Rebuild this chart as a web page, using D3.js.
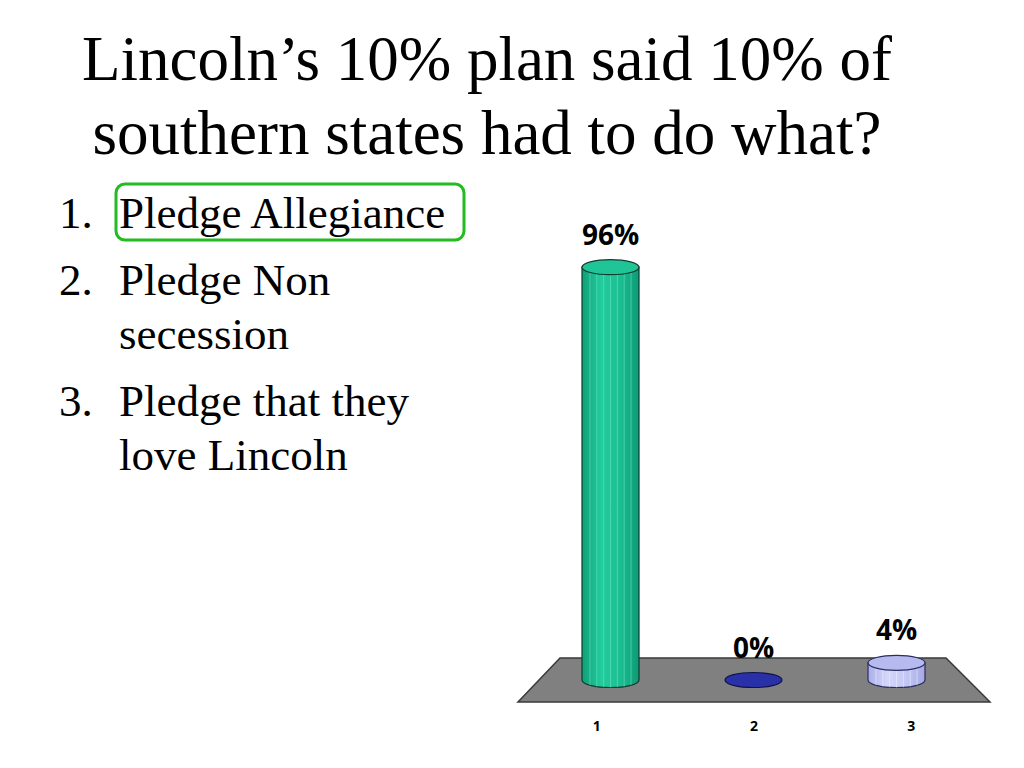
<!DOCTYPE html>
<html><head><meta charset="utf-8">
<script src="https://cdn.jsdelivr.net/npm/d3@7"></script>
<style>html,body{margin:0;padding:0;background:#fff;overflow:hidden}</style>
</head><body>
<svg id="chart" width="1024" height="768"></svg>
<script>
// ---- data ----
const titleLines = ["Lincoln\u2019s 10% plan said 10% of", "southern states had to do what?"];
const answerNumbers = ["1.", "2.", "3."];
const answerLines = [["Pledge Allegiance"], ["Pledge Non", "secession"], ["Pledge that they", "love Lincoln"]];
const categories = ["1", "2", "3"];
const values = [96, 0, 4];
const valueLabels = ["96%", "0%", "4%"];
const correctIndex = 0;

// ---- layout ----
const svg = d3.select("#chart");
const W = 1024, H = 768;
svg.append("rect").attr("width", W).attr("height", H).attr("fill", "#fff");

// title
svg.append("g").selectAll("text").data(titleLines).join("text")
  .attr("x", 487).attr("y", (d, i) => 80 + i * 74)
  .attr("text-anchor", "middle")
  .attr("font-family", "Liberation Serif, Times New Roman, serif")
  .attr("font-size", 63).attr("fill", "#000")
  .text(d => d);

// answer list
const lineBaselines = [];
let yb = 228;
answerLines.forEach((lines, i) => {
  const arr = [];
  lines.forEach((l, j) => { arr.push(yb); yb += 54; });
  yb += 13;
  lineBaselines.push(arr);
});
const list = svg.append("g")
  .attr("font-family", "Liberation Serif, Times New Roman, serif")
  .attr("font-size", 45).attr("fill", "#000");
answerLines.forEach((lines, i) => {
  list.append("text").attr("x", 59).attr("y", lineBaselines[i][0]).text(answerNumbers[i]);
  lines.forEach((l, j) => {
    list.append("text").attr("x", 119).attr("y", lineBaselines[i][j]).text(l);
  });
});
// highlight box around correct answer
svg.append("rect")
  .attr("x", 116).attr("y", 184).attr("width", 348).attr("height", 56)
  .attr("rx", 9).attr("fill", "none")
  .attr("stroke", "#22bb22").attr("stroke-width", 3);

// ---- chart ----
const floorBackY = 658, floorFrontY = 702;
const xBack = d3.scaleBand().domain(categories).range([560, 946]);
const xFront = d3.scaleBand().domain(categories).range([518, 990]);
const xMid = d3.scaleBand().domain(categories).range([539, 968]);
const y = d3.scaleLinear().domain([0, 100]).range([680, 250]);

// floor
svg.append("path")
  .attr("d", `M${xBack.range()[0]},${floorBackY} L${xBack.range()[1]},${floorBackY} L${xFront.range()[1]},${floorFrontY} L${xFront.range()[0]},${floorFrontY} Z`)
  .attr("fill", "#808080").attr("stroke", "#3a3a3a").attr("stroke-width", 1.5);

const defs = svg.append("defs");
const palettes = [
  { side: ["#0f9f78", "#22cc9c", "#1cbf92", "#0e9a74"], top: "#1fc596", stroke: "#0b3d2e", stripe: "#6ee6c4" },
  { side: ["#1d2390", "#2c34b0", "#2a32a8", "#1d2390"], top: "#2a30a8", stroke: "#10134a", stripe: "#5a60d0" },
  { side: ["#a9aee8", "#d4d7fa", "#c4c8f6", "#a4a9e4"], top: "#b6baee", stroke: "#2a2e60", stripe: "#eef0ff" }
];
palettes.forEach((p, i) => {
  const g = defs.append("linearGradient").attr("id", "grad" + i).attr("x1", 0).attr("x2", 1).attr("y1", 0).attr("y2", 0);
  p.side.forEach((c, k) => g.append("stop").attr("offset", k / (p.side.length - 1)).attr("stop-color", c));
});

const rx = 28.5, ry = 7.5;
const bars = svg.append("g");
categories.forEach((c, i) => {
  const cx = xMid(c) + xMid.bandwidth() / 2;
  const yB = y(0), yT = y(values[i]);
  const p = palettes[i];
  const g = bars.append("g");
  if (values[i] > 0) {
    g.append("path")
      .attr("d", `M${cx - rx},${yT} L${cx - rx},${yB} A${rx},${ry} 0 0 0 ${cx + rx},${yB} L${cx + rx},${yT} Z`)
      .attr("fill", `url(#grad${i})`).attr("stroke", p.stroke).attr("stroke-width", 1.2);
    const stripeOffsets = d3.range(-0.72, 0.8, 0.24);
    stripeOffsets.forEach(o => {
      const sx = cx + o * rx;
      const dy = ry * Math.sqrt(Math.max(0, 1 - o * o));
      g.append("line").attr("x1", sx).attr("x2", sx).attr("y1", yT + dy).attr("y2", yB + dy)
        .attr("stroke", p.stripe).attr("stroke-width", 1).attr("opacity", 0.55);
    });
  }
  g.append("ellipse").attr("cx", cx).attr("cy", yT).attr("rx", rx).attr("ry", ry)
    .attr("fill", p.top).attr("stroke", p.stroke).attr("stroke-width", 1.2);

  svg.append("text").attr("x", cx).attr("y", yT - ry - 15)
    .attr("text-anchor", "middle")
    .attr("font-family", "Open Sans, Liberation Sans, sans-serif")
    .attr("font-weight", 700).attr("font-size", 28).attr("fill", "#000")
    .text(valueLabels[i]);
});

// category axis labels
svg.append("g").selectAll("text").data(categories).join("text")
  .attr("x", d => xFront(d) + xFront.bandwidth() / 2).attr("y", 731)
  .attr("text-anchor", "middle")
  .attr("font-family", "Open Sans, Liberation Sans, sans-serif")
  .attr("font-weight", 700).attr("font-size", 14).attr("fill", "#000")
  .text(d => d);
</script>
</body></html>
